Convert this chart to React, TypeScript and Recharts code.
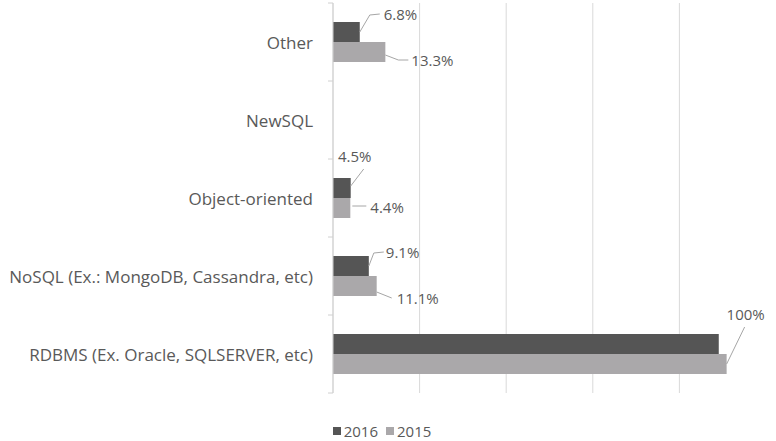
import { BarChart, Bar, XAxis, YAxis, CartesianGrid, Legend, LabelList } from "recharts";

const CATEGORIES = [
  "Other",
  "NewSQL",
  "Object-oriented",
  "NoSQL (Ex.: MongoDB, Cassandra, etc)",
  "RDBMS (Ex. Oracle, SQLSERVER, etc)",
];
const VALUES_2016 = [6.8, 0, 4.5, 9.1, 98];
const VALUES_2015 = [13.3, 0, 4.4, 11.1, 100];
const LABELS_2016 = ["6.8%", "", "4.5%", "9.1%", ""];
const LABELS_2015 = ["13.3%", "", "4.4%", "11.1%", "100%"];
const GRID_TICKS = [0, 22, 44, 66, 88];

const DARK = "#555555";
const LIGHT = "#aaa8aa";
const TEXT = "#595959";
const FONT = "'Open Sans', sans-serif";

type Leader = { pts: [number, number][]; tx: number; ty: number; anchor: "start" | "middle" } | null;

// hand-placed data labels, offsets from the bar end
const LEADERS_2016: Leader[] = [
  { pts: [[0, 0], [10, -17], [20, -18]], tx: 24, ty: -18, anchor: "start" },
  null,
  { pts: [[0, -2], [13, -19]], tx: 4, ty: -32, anchor: "middle" },
  { pts: [[0, 0], [5, -13], [15, -14]], tx: 17, ty: -14, anchor: "start" },
  null,
];
const LEADERS_2015: Leader[] = [
  { pts: [[0, 3], [13, 8], [23, 8]], tx: 26, ty: 8, anchor: "start" },
  null,
  { pts: [[2, -2], [16, -2]], tx: 20, ty: -1, anchor: "start" },
  { pts: [[0, 6], [15, 12]], tx: 20, ty: 12, anchor: "start" },
  { pts: [[0, 0], [18, -37]], tx: 19, ty: -50, anchor: "middle" },
];

const data = CATEGORIES.map((name, i) => ({
  name,
  y2016: VALUES_2016[i],
  y2015: VALUES_2015[i],
}));

function makeLabel(leaders: Leader[], texts: string[]) {
  return (props: any) => {
    const { x, y, width, height, value } = props;
    const index = CATEGORIES.indexOf(value);
    const spec = leaders[index];
    if (!spec || !texts[index]) return null;
    const ex = Number(x) + Number(width);
    const ey = Number(y) + Number(height) / 2;
    const points = spec.pts.map(([dx, dy]) => `${ex + dx},${ey + dy}`).join(" ");
    return (
      <g>
        <polyline points={points} fill="none" stroke="#a6a6a6" strokeWidth={1} />
        <text
          x={ex + spec.tx}
          y={ey + spec.ty}
          textAnchor={spec.anchor}
          dominantBaseline="central"
          fill={TEXT}
          fontSize={15}
          fontFamily={FONT}
        >
          {texts[index]}
        </text>
      </g>
    );
  };
}

function CategoryTick(props: any) {
  const { x, y, payload, index } = props;
  const band = 78;
  const axisX = x + 20;
  return (
    <g>
      <text x={x} y={y} textAnchor="end" dominantBaseline="central" fill={TEXT} fontSize={17} fontFamily={FONT}>
        {payload.value}
      </text>
      <line x1={axisX - 5} x2={axisX} y1={y - band / 2} y2={y - band / 2} stroke="#d0d0d0" />
      {index === CATEGORIES.length - 1 && (
        <line x1={axisX - 5} x2={axisX} y1={y + band / 2} y2={y + band / 2} stroke="#d0d0d0" />
      )}
    </g>
  );
}

function LegendContent() {
  const item = (color: string, label: string) => (
    <span style={{ display: "inline-flex", alignItems: "center", marginRight: 8 }}>
      <span style={{ width: 8, height: 8, background: color, marginRight: 3, display: "inline-block" }} />
      <span>{label}</span>
    </span>
  );
  return (
    <div
      style={{
        textAlign: "center",
        fontFamily: FONT,
        fontSize: 15,
        lineHeight: "16px",
        color: TEXT,
        height: 48,
        boxSizing: "border-box",
        paddingTop: 28,
        paddingLeft: 6,
      }}
    >
      {item(DARK, "2016")}
      {item(LIGHT, "2015")}
    </div>
  );
}

export default function App() {
  return (
    <div style={{ position: "fixed", left: 0, top: 0, background: "#fff" }}>
      <BarChart
        width={776}
        height={441}
        data={data}
        layout="vertical"
        margin={{ top: 3, right: 10, bottom: 0, left: 0 }}
        barSize={20}
        barGap={0}
      >
        <CartesianGrid horizontal={false} stroke="#d9d9d9" verticalValues={GRID_TICKS} />
        <XAxis type="number" domain={[0, 110]} ticks={GRID_TICKS} hide />
        <YAxis
          type="category"
          dataKey="name"
          width={333}
          axisLine={{ stroke: "#d0d0d0" }}
          tickLine={false}
          tickSize={0}
          tickMargin={20}
          tick={<CategoryTick />}
          interval={0}
        />
        <Legend verticalAlign="bottom" content={<LegendContent />} />
        <Bar dataKey="y2016" name="2016" fill={DARK} isAnimationActive={false}>
          <LabelList dataKey="name" content={makeLabel(LEADERS_2016, LABELS_2016)} />
        </Bar>
        <Bar dataKey="y2015" name="2015" fill={LIGHT} isAnimationActive={false}>
          <LabelList dataKey="name" content={makeLabel(LEADERS_2015, LABELS_2015)} />
        </Bar>
      </BarChart>
    </div>
  );
}
